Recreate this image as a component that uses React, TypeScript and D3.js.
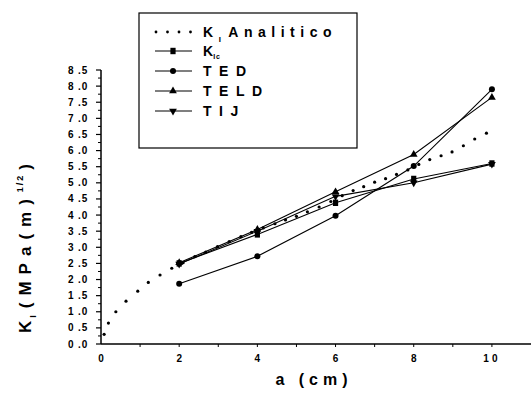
import * as d3 from "d3";

const xs = [2, 4, 6, 8, 10];
const kic = [2.5, 3.4, 4.38, 5.12, 5.6];
const ted = [1.87, 2.72, 3.98, 5.52, 7.9];
const teld = [2.52, 3.55, 4.72, 5.88, 7.65];
const tij = [2.48, 3.5, 4.58, 5.0, 5.58];

// dotted analytic curve, dots
const anaA = [0.08, 0.19, 0.38, 0.64, 0.94, 1.21, 1.51, 1.81, 2.1, 2.4, 2.68, 2.98, 3.28, 3.58, 3.85, 4.15, 4.45, 4.72, 5.0, 5.28, 5.58, 5.88, 6.17, 6.45, 6.72, 7.0, 7.28, 7.56, 7.85, 8.13, 8.41, 8.7, 8.98, 9.27, 9.56, 9.86];
const anaK = [0.3, 0.65, 1.0, 1.33, 1.64, 1.91, 2.14, 2.35, 2.52, 2.71, 2.85, 3.02, 3.18, 3.33, 3.46, 3.6, 3.73, 3.85, 3.96, 4.1, 4.25, 4.42, 4.6, 4.76, 4.88, 5.02, 5.13, 5.26, 5.4, 5.57, 5.72, 5.84, 5.96, 6.15, 6.36, 6.54];

const yTicks = d3.range(0, 8.51, 0.5);
const yMinor = d3.range(0.25, 8.5, 0.5);
const xLabels = [0, 2, 4, 6, 8, 10];
const xMinor = d3.range(1, 11, 1);

const W = 531;
const H = 394;
const font = "'Liberation Sans', Arial, sans-serif";

const x = d3.scaleLinear().domain([0, 11]).range([101, 531]);
const y = d3.scaleLinear().domain([0, 8.5]).range([344, 70]);

type Mark = "square" | "circle" | "up" | "down";

const series: { name: string; vals: number[]; mark: Mark }[] = [
  { name: "kic", vals: kic, mark: "square" },
  { name: "ted", vals: ted, mark: "circle" },
  { name: "teld", vals: teld, mark: "up" },
  { name: "tij", vals: tij, mark: "down" },
];

const marker = (m: Mark, cx: number, cy: number, k: number) => {
  if (m === "square") return <rect key={k} x={cx - 2.6} y={cy - 3.2} width={5.2} height={6.4} fill="#000" />;
  if (m === "circle") return <circle key={k} cx={cx} cy={cy} r={3} fill="#000" />;
  const sym = d3.symbol().type(d3.symbolTriangle).size(26)();
  return (
    <path key={k} d={sym || ""} fill="#000"
      transform={`translate(${cx},${cy})${m === "down" ? " rotate(180)" : ""}`} />
  );
};

const fmt = (v: number) => {
  const s = v.toFixed(1).split(".");
  return `${s[0]} .${s[1]}`;
};

export default function App() {
  const line = d3.line<number>().x((_, i) => x(xs[i])).y((d) => y(d));
  const legendRows: { label: JSX.Element; mark?: Mark; ls: number }[] = [
    { label: <><tspan>K</tspan><tspan fontSize={8} dy={5}>I</tspan><tspan dy={-5} dx={2}>Analitico</tspan></>, ls: 5.5 },
    { label: <><tspan letterSpacing={0}>K</tspan><tspan fontSize={7} dy={3} letterSpacing={1}>Ic</tspan></>, mark: "square", ls: 6 },
    { label: <tspan>TED</tspan>, mark: "circle", ls: 7.5 },
    { label: <tspan>TELD</tspan>, mark: "up", ls: 7.5 },
    { label: <tspan>TIJ</tspan>, mark: "down", ls: 7.5 },
  ];
  const rowY = [32, 51, 71, 91, 111];

  return (
    <svg width={W} height={H} style={{ position: "absolute", left: 0, top: 0, background: "#fff" }}>
      {/* axes */}
      <line x1={x(0)} x2={x(0)} y1={y(8.5)} y2={y(0)} stroke="#000" strokeWidth={1.5} />
      <line x1={x(0)} x2={x(11)} y1={y(0)} y2={y(0)} stroke="#000" strokeWidth={1.5} />
      {yTicks.map((t) => (
        <g key={t}>
          <line x1={x(0) - 5} x2={x(0)} y1={y(t)} y2={y(t)} stroke="#000" strokeWidth={1.2} />
          <text x={x(0) - 13} y={y(t) + 3.5} textAnchor="end" fontFamily={font} fontWeight="bold"
            fontSize={10} letterSpacing={0.8}>{fmt(t)}</text>
        </g>
      ))}
      {yMinor.map((t) => (
        <line key={t} x1={x(0) - 3} x2={x(0)} y1={y(t)} y2={y(t)} stroke="#000" strokeWidth={1} />
      ))}
      {xMinor.map((t) => (
        <line key={t} x1={x(t)} x2={x(t)} y1={y(0)} y2={y(0) + 3} stroke="#000" strokeWidth={1} />
      ))}
      {xLabels.map((t) => (
        <text key={t} x={x(t)} y={y(0) + 18} textAnchor="middle" fontFamily={font} fontWeight="bold"
          fontSize={10} letterSpacing={t >= 10 ? 3 : 0}>{t}</text>
      ))}
      <text x={314} y={385} textAnchor="middle" fontFamily={font} fontWeight="bold" fontSize={16}
        letterSpacing={5}>a (cm)</text>
      <text transform="translate(31,245) rotate(-90)" textAnchor="middle" fontFamily={font}
        fontWeight="bold" fontSize={17} letterSpacing={7}>
        <tspan>K</tspan><tspan fontSize={9} dy={5} dx={-4}>I</tspan>
        <tspan dy={-5}>(MPa(m)</tspan><tspan fontSize={9} dy={-8} letterSpacing={2}>1/2</tspan><tspan dy={8} dx={4}>)</tspan>
      </text>

      {/* analytic dots */}
      {anaA.map((a, i) => (
        <circle key={i} cx={x(a)} cy={y(anaK[i])} r={1.6} fill="#000" />
      ))}

      {series.map((s) => (
        <g key={s.name}>
          <path d={line(s.vals) || ""} fill="none" stroke="#000" strokeWidth={1.1} />
          {s.vals.map((v, i) => marker(s.mark, x(xs[i]), y(v), i))}
        </g>
      ))}

      {/* legend */}
      <rect x={139} y={13} width={218} height={135} fill="#fff" stroke="#000" strokeWidth={1.2} />
      {legendRows.map((r, i) => (
        <g key={i}>
          {r.mark ? (
            <>
              <line x1={155} x2={192} y1={rowY[i]} y2={rowY[i]} stroke="#000" strokeWidth={1.1} />
              {marker(r.mark, 173, rowY[i], 0)}
            </>
          ) : (
            d3.range(4).map((k) => <circle key={k} cx={156 + k * 11.5} cy={rowY[i]} r={1.4} fill="#000" />)
          )}
          <text x={203} y={rowY[i] + 5} fontFamily={font} fontWeight="bold" fontSize={14}
            letterSpacing={r.ls}>{r.label}</text>
        </g>
      ))}
    </svg>
  );
}
